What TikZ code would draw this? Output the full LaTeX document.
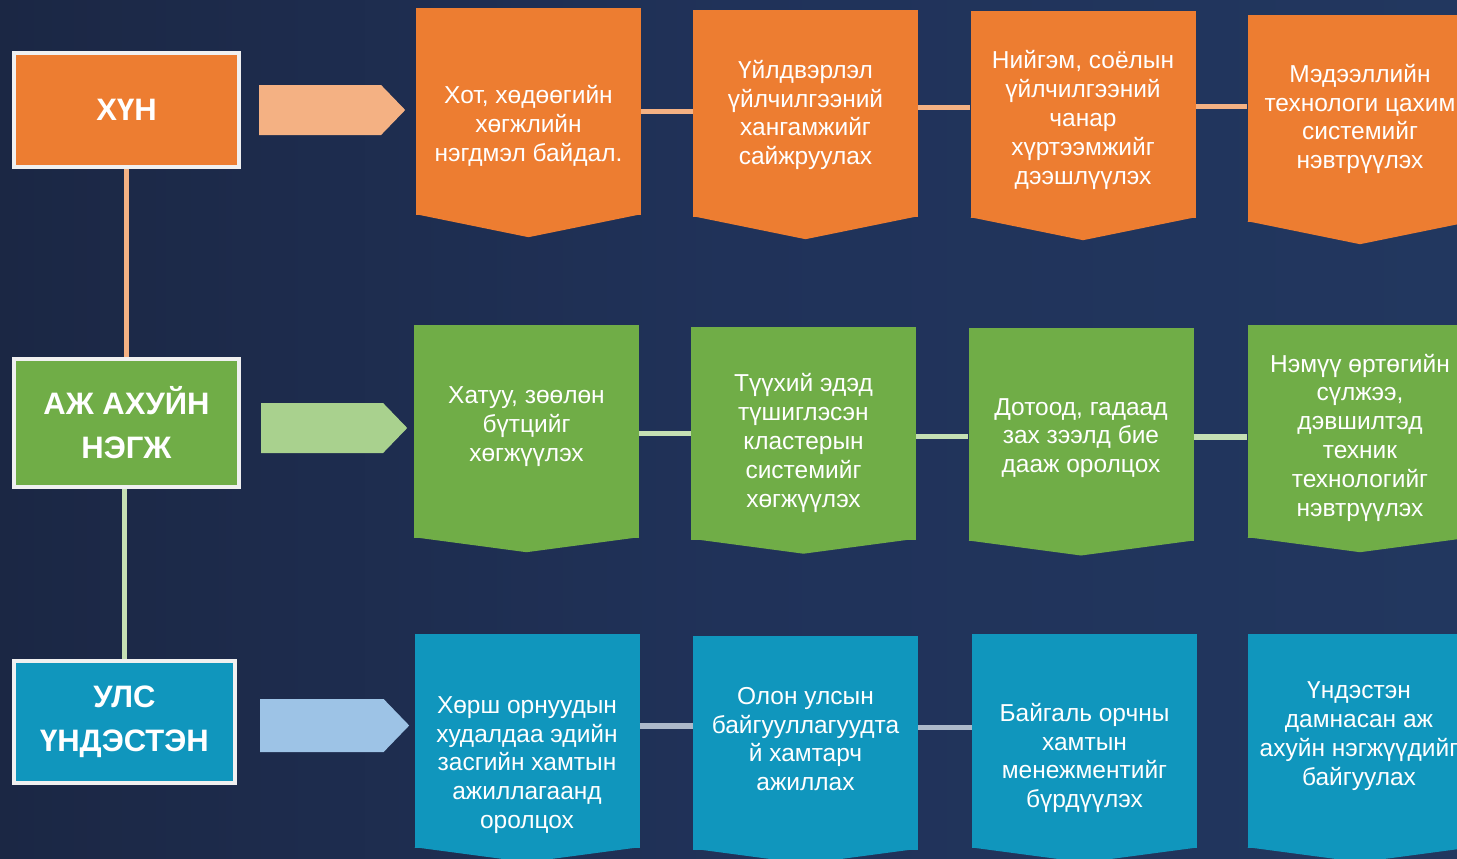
\documentclass[tikz,border=0pt]{standalone}
\usepackage{fontspec}
\setmainfont{Liberation Sans}
\usetikzlibrary{shapes.arrows}
\definecolor{bgdark}{HTML}{1B2744}
\definecolor{bgmid}{HTML}{203259}
\definecolor{bglight}{HTML}{22375F}
\definecolor{hunC}{HTML}{ED7D31}
\definecolor{hunL}{HTML}{F4B183}
\definecolor{ajC}{HTML}{70AD47}
\definecolor{ajL}{HTML}{A9D18E}
\definecolor{ajLine}{HTML}{C5E0B4}
\definecolor{ulsC}{HTML}{1096BD}
\definecolor{ulsL}{HTML}{9DC3E6}
\definecolor{ulsLine}{HTML}{ADB9CA}
\definecolor{rim}{HTML}{F0F0F0}

\begin{document}
\begin{tikzpicture}[x=1pt, y=-1pt]
    \tikzset{titlebox/.style={draw=rim, line width=4pt, fill=#1, text=white, align=center,
        inner sep=0pt, minimum width=225pt, font=\bfseries\fontsize{31}{44}\selectfont}}
    \tikzset{stepbox/.style={fill=#1, minimum width=225pt, inner sep=0pt}}
    \tikzset{txt/.style={text=white, align=center, inner sep=0pt,
        font=\fontsize{24.5}{28.8}\selectfont}}
    \tikzset{blockarrow/.style={single arrow, single arrow head extend=0pt,
        single arrow tip angle=92, fill=#1, inner sep=0pt, anchor=tail,
        minimum width=50pt, minimum height=146pt}}
    \tikzset{hlink/.style={line width=5.5pt, #1}}
    \useasboundingbox (0,0) rectangle (1457,859);
    \clip (0,0) rectangle (1457,859);
    \shade[left color=bgdark, right color=bglight, middle color=bgmid] (0,0) rectangle (1457,859);

    % left column
    \node[titlebox=hunC, minimum height=114pt] (hun) at (126.5,110) {ХҮН};
    \node[titlebox=ajC, minimum height=128pt] (aj) at (126.5,423) {АЖ АХУЙН\\НЭГЖ};
    \node[titlebox=ulsC, minimum width=221pt, minimum height=122pt] (uls) at (124.5,722) {УЛС\\ҮНДЭСТЭН};
    \draw[hlink=hunL] (hun) -- (aj);
    \draw[hlink=ajLine] (aj.south -| uls.north) -- (uls.north);

    \node[blockarrow=hunL] (a1) at (259,110) {};
    \node[blockarrow=ajL] (a2) at (261,428) {};
    \node[blockarrow=ulsL, minimum width=53pt, minimum height=149pt] (a3) at (260,725.5) {};

    % row 1
    \node[stepbox=hunC, minimum height=207pt] (b11) at (528.5,111.5) {};
    \node[stepbox=hunC, minimum height=207pt] (b12) at (805.5,113.5) {};
    \node[stepbox=hunC, minimum height=207pt] (b13) at (1083,114.5) {};
    \node[stepbox=hunC, minimum height=207pt] (b14) at (1360,118.5) {};
    \foreach \n in {b11,b12,b13,b14}
        \fill[hunC] ([yshift=1pt]\n.south west) -- ([yshift=-22pt]\n.south)
            -- ([yshift=1pt]\n.south east) -- cycle;

    % row 2
    \node[stepbox=ajC, minimum height=213pt] (b21) at (526.5,431.5) {};
    \node[stepbox=ajC, minimum height=213pt] (b22) at (803.5,433) {};
    \node[stepbox=ajC, minimum height=213pt] (b23) at (1081,434.8) {};
    \node[stepbox=ajC, minimum height=213pt] (b24) at (1360,431.5) {};
    \foreach \n in {b21,b22,b23,b24}
        \fill[ajC] ([yshift=1pt]\n.south west) -- ([yshift=-14pt]\n.south)
            -- ([yshift=1pt]\n.south east) -- cycle;

    % row 3
    \node[stepbox=ulsC, minimum height=214pt] (b31) at (527,741) {};
    \node[stepbox=ulsC, minimum height=214pt] (b32) at (805.5,742.5) {};
    \node[stepbox=ulsC, minimum height=214pt] (b33) at (1084.5,741.3) {};
    \node[stepbox=ulsC, minimum height=214pt] (b34) at (1360,741) {};
    \foreach \n in {b31,b32,b33,b34}
        \fill[ulsC] ([yshift=1pt]\n.south west) -- ([yshift=-14pt]\n.south)
            -- ([yshift=1pt]\n.south east) -- cycle;

    % links
    \draw[hlink=hunL] (b11.east) -- (b11.east -| b12.west);
    \draw[hlink=hunL] ([yshift=6pt]b12.east) -- ([yshift=6pt]b12.east -| b13.west);
    \draw[hlink=hunL] ([yshift=8pt]b13.east) -- ([yshift=8pt]b13.east -| b14.west);
    \draw[hlink=ajLine] ([yshift=-2pt]b21.east) -- ([yshift=-2pt]b21.east -| b22.west);
    \draw[hlink=ajLine] ([yshift=-3.5pt]b22.east) -- ([yshift=-3.5pt]b22.east -| b23.west);
    \draw[hlink=ajLine] ([yshift=-2pt]b23.east) -- ([yshift=-2pt]b23.east -| b24.west);
    \draw[hlink=ulsLine] ([yshift=15pt]b31.east) -- ([yshift=15pt]b31.east -| b32.west);
    \draw[hlink=ulsLine] ([yshift=15pt]b32.east) -- ([yshift=15pt]b32.east -| b33.west);

    % texts
    \node[txt] (t11) at (528.5,126) {Хот, хөдөөгийн\\хөгжлийн\\нэгдмэл байдал.};
    \node[txt] (t12) at (805.5,115) {Үйлдвэрлэл\\үйлчилгээний\\хангамжийг\\сайжруулах};
    \node[txt] (t13) at (1083,120) {Нийгэм, соёлын\\үйлчилгээний\\чанар\\хүртээмжийг\\дээшлүүлэх};
    \node[txt] (t14) at (1360,119) {Мэдээллийн\\технологи цахим\\системийг\\нэвтрүүлэх};
    \node[txt] (t21) at (526.5,426.5) {Хатуу, зөөлөн\\бүтцийг\\хөгжүүлэх};
    \node[txt] (t22) at (803.5,443) {Түүхий эдэд\\түшиглэсэн\\кластерын\\системийг\\хөгжүүлэх};
    \node[txt] (t23) at (1081,438) {Дотоод, гадаад\\зах зээлд бие\\дааж оролцох};
    \node[txt] (t24) at (1360,437.5) {Нэмүү өртөгийн\\сүлжээ,\\дэвшилтэд\\техник\\технологийг\\нэвтрүүлэх};
    \node[txt] (t31) at (527,765) {Хөрш орнуудын\\худалдаа эдийн\\засгийн хамтын\\ажиллагаанд\\оролцох};
    \node[txt] (t32) at (805.5,739) {Олон улсын\\байгууллагуудта\\й хамтарч\\ажиллах};
    \node[txt] (t33) at (1084.5,758) {Байгаль орчны\\хамтын\\менежментийг\\бүрдүүлэх};
    \node[txt] (t34) at (1359,736) {Үндэстэн\\дамнасан аж\\ахуйн нэгжүүдийг\\байгуулах};
\end{tikzpicture}
\end{document}
